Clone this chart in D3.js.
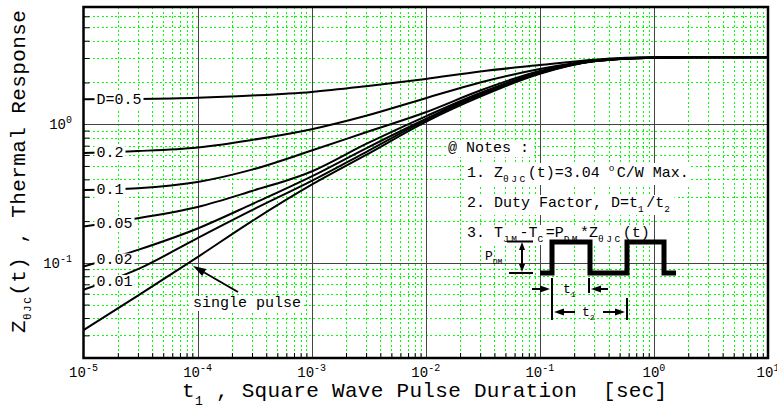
<!DOCTYPE html>
<html>
<head>
<meta charset="utf-8">
<script src="https://cdn.jsdelivr.net/npm/d3@7"></script>
<style>
  body { margin: 0; background: #fff; }
  text { font-family: "Liberation Mono", "DejaVu Sans Mono", monospace; fill: #000; white-space: pre; }
</style>
</head>
<body>
<script>
// pulse durations (sec) where the curves were read
const tPoints = [1e-5, 3e-5, 1e-4, 3e-4, 1e-3, 3e-3, 1e-2, 3e-2, 1e-1, 3e-1, 1, 3, 10];
// Z thetaJC(t), one array per duty factor
const zD05    = [1.51, 1.52, 1.55, 1.61, 1.71, 1.88, 2.12, 2.40, 2.67, 2.92, 3.04, 3.04, 3.04];
const zD02    = [0.62, 0.64, 0.68, 0.77, 0.92, 1.15, 1.54, 2.00, 2.50, 2.88, 3.03, 3.04, 3.04];
const zD01    = [0.335, 0.345, 0.383, 0.47, 0.646, 0.875, 1.22, 1.75, 2.42, 2.86, 3.03, 3.04, 3.04];
const zD005   = [0.183, 0.21, 0.253, 0.33, 0.456, 0.72, 1.14, 1.68, 2.37, 2.86, 3.02, 3.04, 3.04];
const zD002   = [0.094, 0.124, 0.177, 0.265, 0.42, 0.67, 1.09, 1.65, 2.34, 2.85, 3.02, 3.04, 3.04];
const zD001   = [0.064, 0.09, 0.151, 0.24, 0.39, 0.63, 1.07, 1.62, 2.33, 2.85, 3.02, 3.04, 3.04];
const zSingle = [0.0327, 0.058, 0.11, 0.2, 0.366, 0.6, 1.04, 1.58, 2.31, 2.84, 3.02, 3.04, 3.04];

const dutySeries = [zD05, zD02, zD01, zD005, zD002, zD001];
const dutyLabels = ["D=0.5", "0.2", "0.1", "0.05", "0.02", "0.01"];

const xExponents = [-5, -4, -3, -2, -1, 0, 1];
const yExponents = [0, -1];

const width = 777, height = 409;

const svg = d3.select("body").append("svg")
  .attr("width", width)
  .attr("height", height);

const x = d3.scaleLog().domain([1e-5, 10]).range([83.5, 768]);
const y = d3.scaleLog().domain([0.0206, 7]).range([358, 7]);

const [x0, x1] = x.range();
const [yb, yt] = y.range();

// minor grid values
const xMinor = [];
for (let e = -5; e < 1; e++) for (let k = 2; k <= 9; k++) xMinor.push(k * Math.pow(10, e));
const yMinor = [];
for (let e = -2; e <= 0; e++) for (let k = 2; k <= 9; k++) {
  const v = k * Math.pow(10, e);
  if (v > y.domain()[0] && v < y.domain()[1]) yMinor.push(v);
}
const xMajor = [1e-4, 1e-3, 1e-2, 1e-1, 1];
const yMajor = [0.1, 1];

const px = v => Math.round(v) + 0.5;

// green dotted minor grid
const grid = svg.append("g")
  .attr("stroke", "#00ff00")
  .attr("stroke-width", 1)
  .attr("stroke-dasharray", "2,2.5")
  .attr("shape-rendering", "crispEdges");

grid.selectAll("line.vx").data(xMinor).join("line")
  .attr("x1", d => px(x(d))).attr("x2", d => px(x(d)))
  .attr("y1", yt).attr("y2", yb);

grid.selectAll("line.hy").data(yMinor).join("line")
  .attr("x1", x0).attr("x2", x1)
  .attr("y1", d => px(y(d))).attr("y2", d => px(y(d)));

// major grid
const major = svg.append("g")
  .attr("stroke", "#444")
  .attr("stroke-width", 1)
  .attr("shape-rendering", "crispEdges");

major.selectAll("line.mx").data(xMajor).join("line")
  .attr("x1", d => px(x(d))).attr("x2", d => px(x(d)))
  .attr("y1", yt).attr("y2", yb);

major.selectAll("line.my").data(yMajor).join("line")
  .attr("x1", x0).attr("x2", x1)
  .attr("y1", d => px(y(d))).attr("y2", d => px(y(d)));

// ticks (inward)
svg.append("g")
  .attr("transform", `translate(0,${yb})`)
  .call(d3.axisBottom(x).tickValues(xMinor).tickSize(-5).tickFormat(""))
  .call(g => g.select(".domain").remove());

svg.append("g")
  .attr("transform", `translate(${x0},0)`)
  .call(d3.axisLeft(y).tickValues(yMinor).tickSize(-6).tickFormat(""))
  .call(g => g.select(".domain").remove());

// curves
const line = d3.line()
  .x(d => x(d[0]))
  .y(d => y(d[1]))
  .curve(d3.curveMonotoneX);

const allSeries = dutySeries.concat([zSingle]);

svg.append("g")
  .attr("fill", "none")
  .attr("stroke", "black")
  .attr("stroke-width", 2)
  .selectAll("path")
  .data(allSeries)
  .join("path")
  .attr("d", s => line(tPoints.map((t, i) => [t, s[i]])));

// white box behind a text element
function addBg(textSel, padX, padY) {
  const b = textSel.node().getBBox();
  d3.select(textSel.node().parentNode)
    .insert("rect", () => textSel.node())
    .attr("x", b.x - padX).attr("y", b.y - padY)
    .attr("width", b.width + 2 * padX).attr("height", b.height + 2 * padY)
    .attr("fill", "white");
}

// curve labels
const labelT = 1.6e-5;
const labels = svg.append("g");
dutySeries.forEach((s, i) => {
  const f = (Math.log10(labelT) - Math.log10(tPoints[0])) / (Math.log10(tPoints[1]) - Math.log10(tPoints[0]));
  const v = Math.pow(10, Math.log10(s[0]) + f * (Math.log10(s[1]) - Math.log10(s[0])));
  const g = labels.append("g");
  const t = g.append("text")
    .attr("x", x(1.3e-5))
    .attr("y", y(v) + 5)
    .attr("font-size", 15)
    .text(dutyLabels[i]);
  addBg(t, 2, -1);
});

// arrowhead helper
function arrow(g, xa, ya, xb, yb2, len, w, sw) {
  const ang = Math.atan2(yb2 - ya, xb - xa);
  const bx = xb - len * Math.cos(ang), by = yb2 - len * Math.sin(ang);
  g.append("line")
    .attr("x1", xa).attr("y1", ya).attr("x2", bx).attr("y2", by)
    .attr("stroke", "black").attr("stroke-width", sw);
  const nx = -Math.sin(ang) * w / 2, ny = Math.cos(ang) * w / 2;
  g.append("path")
    .attr("d", `M${xb},${yb2}L${bx + nx},${by + ny}L${bx - nx},${by - ny}Z`)
    .attr("fill", "black");
}

// single pulse label
const sp = svg.append("g");
const spText = sp.append("text")
  .attr("x", 247).attr("y", 307)
  .attr("text-anchor", "middle")
  .attr("font-size", 15)
  .text("single pulse");
addBg(spText, 2, -1);
arrow(sp, 238, 292, 193, 266, 13, 8, 2);

// notes
const notes = svg.append("g").attr("font-size", 15);

function noteLine(xp, yp, parts) {
  const g = notes.append("g");
  const t = g.append("text").attr("x", xp).attr("y", yp);
  let shift = 0;
  parts.forEach(p => {
    const target = p.s === "sub" ? 5 : p.s === "sup" ? -6 : 0;
    const ts = t.append("tspan").attr("dy", target - shift).text(p.t);
    if (p.s) ts.attr("font-size", 9.5).attr("letter-spacing", 2.5);
    shift = target;
  });
  addBg(t, 2, 0);
  return t;
}

noteLine(448, 152, [{ t: "@ Notes :" }]);
noteLine(467, 177, [{ t: "1. Z" }, { t: "θJC", s: "sub" }, { t: "(t)=3.04 " }, { t: "o", s: "sup" }, { t: "C/W Max." }]);
noteLine(467, 207, [{ t: "2. Duty Factor, D=t" }, { t: "1", s: "sub" }, { t: "/t" }, { t: "2", s: "sub" }]);
noteLine(467, 237, [{ t: "3. T" }, { t: "JM", s: "sub" }, { t: "-T" }, { t: "C", s: "sub" }, { t: "=P" },
  { t: "DM", s: "sub" }, { t: "*Z" }, { t: "θJC", s: "sub" }, { t: "(t)" }]);

// pulse train sketch
const pulse = svg.append("g");
const waveX = [540, 552, 552, 590, 590, 627, 627, 664, 664, 676];
const waveY = [273, 273, 242, 242, 273, 273, 242, 242, 273, 273];
pulse.append("path")
  .attr("d", d3.line()(waveX.map((v, i) => [v, waveY[i]])))
  .attr("fill", "none")
  .attr("stroke", "black")
  .attr("stroke-width", 5)
  .attr("stroke-linejoin", "miter");

pulse.append("line").attr("x1", 507).attr("x2", 533).attr("y1", 241.5).attr("y2", 241.5)
  .attr("stroke", "black").attr("stroke-width", 2);
pulse.append("line").attr("x1", 509).attr("x2", 533).attr("y1", 273).attr("y2", 273)
  .attr("stroke", "black").attr("stroke-width", 2);
arrow(pulse, 522, 257, 522, 242, 8, 6, 2);
arrow(pulse, 522, 257, 522, 272, 8, 6, 2);

const pdm = pulse.append("text").attr("x", 485).attr("y", 260).attr("font-size", 13);
pdm.append("tspan").text("P");
pdm.append("tspan").attr("dy", 4).attr("font-size", 8).text("DM");

// t1 / t2 dimensions
const ticksX = [[552, 278, 320], [589, 278, 293], [627, 298, 320]];
ticksX.forEach(d => pulse.append("line")
  .attr("x1", d[0]).attr("x2", d[0]).attr("y1", d[1]).attr("y2", d[2])
  .attr("stroke", "black").attr("stroke-width", 2));

arrow(pulse, 532, 289, 550, 289, 10, 7, 2);
arrow(pulse, 608, 289, 591, 289, 10, 7, 2);
arrow(pulse, 575, 312, 554, 312, 10, 7, 2);
arrow(pulse, 603, 312, 625, 312, 10, 7, 2);

const t1 = pulse.append("text").attr("x", 563).attr("y", 293).attr("font-size", 13);
t1.append("tspan").text("t");
t1.append("tspan").attr("dy", 4).attr("font-size", 8).text("1");
const t2 = pulse.append("text").attr("x", 582).attr("y", 316).attr("font-size", 13);
t2.append("tspan").text("t");
t2.append("tspan").attr("dy", 4).attr("font-size", 8).text("2");

// frame
svg.append("rect")
  .attr("x", x0).attr("y", yt)
  .attr("width", x1 - x0).attr("height", yb - yt)
  .attr("fill", "none")
  .attr("stroke", "black")
  .attr("stroke-width", 2.5);

// tick labels
const xl = svg.append("g").attr("font-size", 14);
xExponents.forEach(e => {
  const t = xl.append("text")
    .attr("x", x(Math.pow(10, e)))
    .attr("y", 377)
    .attr("text-anchor", "middle");
  t.append("tspan").text("10");
  t.append("tspan").attr("dy", -6).attr("font-size", 10).text(e);
});

const yl = svg.append("g").attr("font-size", 14);
yExponents.forEach(e => {
  const t = yl.append("text")
    .attr("x", 72)
    .attr("y", y(Math.pow(10, e)) + 5)
    .attr("text-anchor", "end");
  t.append("tspan").text("10");
  t.append("tspan").attr("dy", -6).attr("font-size", 10).text(e);
});

// axis titles
const xt = svg.append("text")
  .attr("x", 182).attr("y", 397)
  .attr("font-size", 21)
  .attr("letter-spacing", 0.3);
xt.append("tspan").text("t");
xt.append("tspan").attr("dy", 8).attr("font-size", 13).text("1");
xt.append("tspan").attr("dy", -8).text(" , Square Wave Pulse Duration  [sec]");

const yTitle = svg.append("text")
  .attr("transform", "translate(25,333) rotate(-90)")
  .attr("font-size", 21)
  .attr("letter-spacing", 0.4);
yTitle.append("tspan").text("Z");
yTitle.append("tspan").attr("dy", 6).attr("font-size", 11).attr("letter-spacing", 1.5).text("θJC");
yTitle.append("tspan").attr("dy", -6).text("(t) , Thermal Response");
</script>
</body>
</html>
